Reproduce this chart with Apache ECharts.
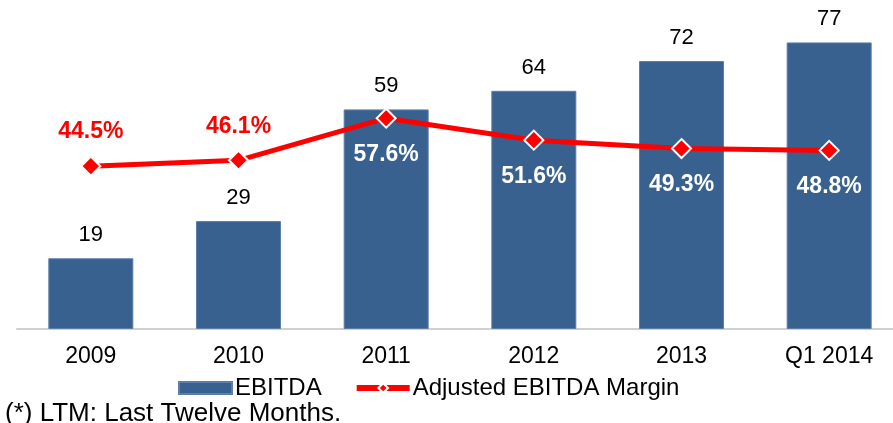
<!DOCTYPE html>
<html>
<head>
<meta charset="utf-8">
<script src="https://cdn.jsdelivr.net/npm/echarts@6/dist/echarts.min.js"></script>
<style>
  html, body { margin: 0; padding: 0; background: #fff; overflow: hidden; }
  /* plot runs past the right edge of the window, as in the original slide */
  #chart { width: 903px; height: 423px; }
</style>
</head>
<body>
<div id="chart"></div>
<script>
var categories = ['2009', '2010', '2011', '2012', '2013', 'Q1 2014'];
var ebitda = [19, 29, 59, 64, 72, 77];
var margin = [44.5, 46.1, 57.6, 51.6, 49.3, 48.8];
// first two margin labels sit above the line in red, the rest inside the bars in white
var marginLabelAbove = [true, true, false, false, false, false];

var marginData = margin.map(function (v, i) {
	var above = marginLabelAbove[i];
	return {
		value: v,
		label: {
			position: above ? 'top' : 'bottom',
			distance: above ? 12 : 14,
			color: above ? '#ff0000' : '#ffffff'
		}
	};
});

var font = 'Liberation Sans, Arial, sans-serif';
var chart = echarts.init(document.getElementById('chart'));

chart.setOption({
	animation: false,
	textStyle: { fontFamily: font },
	grid: { left: 17, right: 0, top: 0, bottom: 94 },
	legend: {
		left: 173,
		top: 371,
		itemWidth: 53,
		itemHeight: 12,
		itemGap: 32,
		textStyle: { fontSize: 24, color: '#000', padding: [0, 0, 0, -2] },
		data: [
			{ name: 'EBITDA', icon: 'rect' },
			{ name: 'Adjusted EBITDA Margin', lineStyle: { width: 6 } }
		]
	},
	xAxis: {
		type: 'category',
		data: categories,
		axisLine: { lineStyle: { color: '#d0d0d0', width: 2 } },
		axisTick: { show: false },
		axisLabel: { fontSize: 23, color: '#000', margin: 16 }
	},
	yAxis: [
		{ type: 'value', min: 0, max: 88.4, show: false, splitLine: { show: false } },
		{ type: 'value', min: 0, max: 89.9, show: false, splitLine: { show: false } }
	],
	series: [
		{
			name: 'EBITDA',
			type: 'bar',
			barWidth: 85,
			data: ebitda,
			itemStyle: { color: '#386190', borderColor: '#5b7fa8', borderWidth: 1 },
			label: {
				show: true,
				position: 'top',
				distance: 12,
				fontSize: 22,
				color: '#000'
			}
		},
		{
			name: 'Adjusted EBITDA Margin',
			type: 'line',
			yAxisIndex: 1,
			data: marginData,
			symbol: 'diamond',
			symbolSize: 19,
			lineStyle: { color: '#ff0000', width: 5 },
			itemStyle: { color: '#ff0000', borderColor: '#ffffff', borderWidth: 2 },
			label: {
				show: true,
				fontSize: 23,
				fontWeight: 'bold',
				formatter: function (p) { return p.value.toFixed(1) + '%'; }
			},
			z: 5
		}
	],
	graphic: [
		{
			type: 'text',
			left: 5,
			top: 401,
			style: {
				text: '(*) LTM: Last Twelve Months.',
				fontSize: 26,
				fill: '#000',
				fontFamily: font
			}
		}
	]
});
</script>
</body>
</html>
